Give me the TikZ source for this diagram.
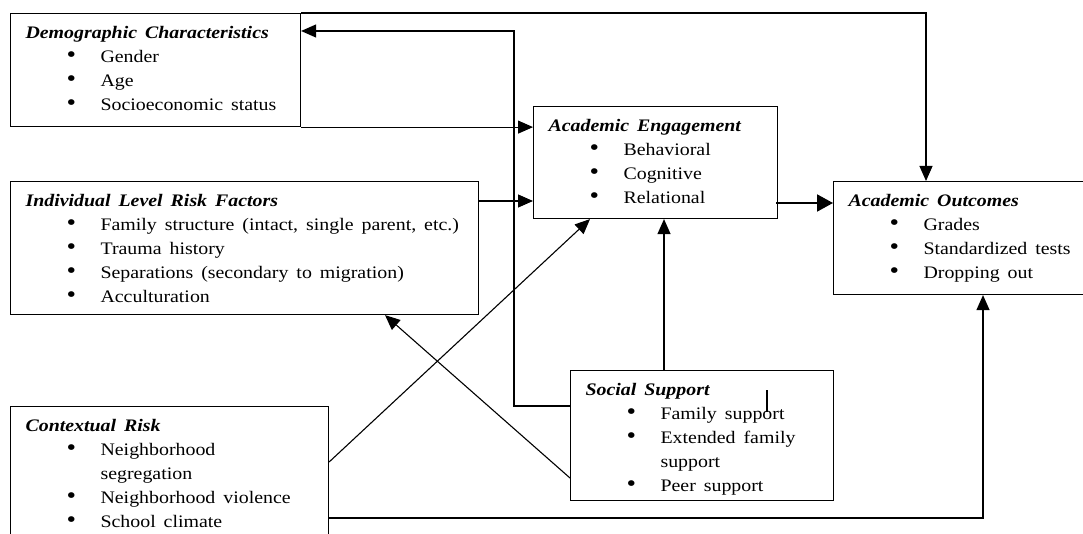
\documentclass[tikz,border=0pt]{standalone}
\usepackage{fontspec}
\setmainfont{Liberation Serif}[FakeStretch=1.13,WordSpace=1.6]
\usetikzlibrary{arrows.meta}
\newcommand{\ttl}[1]{\rule{0pt}{25pt}\hspace*{15pt}\textbf{\textit{#1}}}
\newcommand{\bul}[1]{\par\hspace*{56pt}\makebox[34pt][l]{\fontsize{24}{0}\selectfont\textbullet}#1}
\newcommand{\cont}[1]{\par\hspace*{90pt}#1}

\begin{document}
\begin{tikzpicture}[x=1pt,y=-1pt,
	box/.style={draw, line width=1.1pt, anchor=north west, inner sep=0pt, font=\fontsize{17.6}{23.9}\selectfont},
	arr/.style={draw, line width=1.1pt, -{Triangle[length=15pt,width=13pt]}},
	arrthick/.style={draw, line width=2pt, -{Triangle[length=16pt,width=17pt]}}]
	\useasboundingbox (0,0) rectangle (1083,534);
	\clip (0,0) rectangle (1083,534);
	% boxes
	\node[box] (demo) at (10,13) {\parbox[t][113pt][t]{290pt}{\ttl{Demographic Characteristics}\bul{Gender}\bul{Age}\bul{Socioeconomic status}}};
	\node[box] (indiv) at (10,181) {\parbox[t][133pt][t]{468pt}{\ttl{Individual Level Risk Factors}\bul{Family structure (intact, single parent, etc.)}\bul{Trauma history}\bul{Separations (secondary to migration)}\bul{Acculturation}}};
	\node[box] (ctx) at (10,406) {\parbox[t][150pt][t]{318pt}{\ttl{Contextual Risk}\bul{Neighborhood}\cont{segregation}\bul{Neighborhood violence}\bul{School climate}}};
	\node[box] (eng) at (533,106) {\parbox[t][112pt][t]{244pt}{\ttl{Academic Engagement}\bul{Behavioral}\bul{Cognitive}\bul{Relational}}};
	\node[box] (out) at (833,181) {\parbox[t][113pt][t]{262pt}{\ttl{Academic Outcomes}\bul{Grades}\bul{Standardized tests}\bul{Dropping out}}};
	\node[box] (soc) at (570,370) {\parbox[t][130pt][t]{263pt}{\ttl{Social Support}\bul{Family support}\bul{Extended family}\cont{support}\bul{Peer support}}};
	% connectors
	\draw[arr] (demo.north east) -| ([xshift=93pt]out.north west);
	\draw[arr] ([yshift=-36pt]soc.north west) -- ++(-56,0) |- ([yshift=-18pt]demo.north east);
	\draw[arr] (demo.south east) -- (demo.south east -| eng.west);
	\draw[arr] ([yshift=-20pt]indiv.north east) -- ([yshift=-20pt]indiv.north east -| eng.west);
	\draw[arrthick] ([yshift=-97pt,xshift=-2pt]eng.north east) -- ([yshift=-97pt]eng.north east -| out.west);
	\draw[arr] ([yshift=-56pt]ctx.north east) -- ([xshift=57pt]eng.south west);
	\draw[arr] ([xshift=94pt]soc.north west) -- ([xshift=94pt]soc.north west |- eng.south);
	\draw[arr] ([yshift=-108pt]soc.north west) -- ([xshift=375pt]indiv.south west);
	\draw[arr] ([yshift=-112pt]ctx.north east) -| ([xshift=150pt]out.south west);
	\draw[line width=1.1pt] ([xshift=197pt,yshift=-20pt]soc.north west) -- ++(0,22);
\end{tikzpicture}
\end{document}
